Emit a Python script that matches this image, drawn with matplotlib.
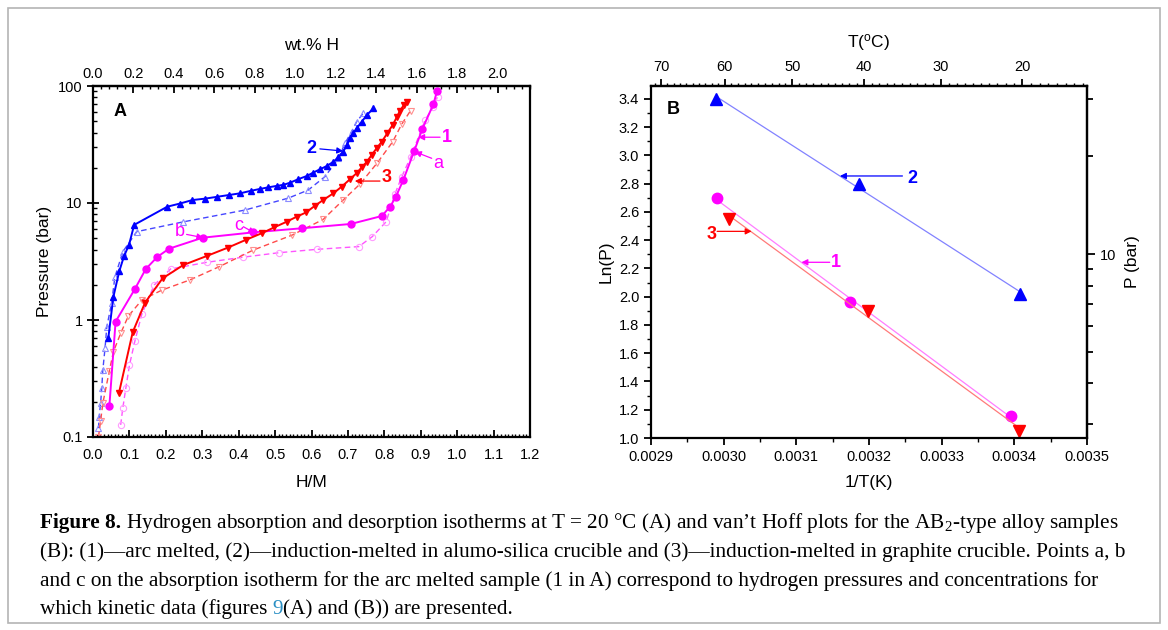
import numpy as np
import matplotlib.pyplot as plt
from matplotlib.ticker import MultipleLocator, FixedLocator, FuncFormatter
from matplotlib.patches import Rectangle

plt.rcParams['font.family'] = ['Liberation Sans', 'DejaVu Sans']
plt.rcParams['mathtext.fontset'] = 'custom'
plt.rcParams['mathtext.rm'] = 'Liberation Serif'
plt.rcParams['mathtext.it'] = 'Liberation Serif:italic'
plt.rcParams['mathtext.bf'] = 'Liberation Serif:bold'

# ---- panel A: isotherms, H/M vs pressure (bar) ----
# sample 1 (arc melted)
hm_abs1 = [0.045, 0.062, 0.115, 0.145, 0.177, 0.209, 0.301, 0.44, 0.573, 0.708,
           0.793, 0.816, 0.831, 0.852, 0.882, 0.904, 0.935, 0.945]
p_abs1 = [0.185, 0.968, 1.84, 2.73, 3.47, 4.07, 5.05, 5.61, 6.08, 6.62,
          7.74, 9.31, 11.2, 15.7, 27.8, 42.6, 70.2, 91.3]
hm_des1 = [0.076, 0.082, 0.090, 0.100, 0.115, 0.134, 0.168, 0.213, 0.312, 0.411,
           0.511, 0.616, 0.730, 0.767, 0.805, 0.829, 0.848, 0.872, 0.912, 0.935, 0.946]
p_des1 = [0.127, 0.178, 0.26, 0.41, 0.66, 1.12, 1.99, 2.73, 3.11, 3.44,
          3.76, 4.02, 4.24, 5.16, 6.92, 11.9, 16.8, 24.6, 51.2, 66.5, 81.1]
# sample 2 (alumo-silica crucible)
hm_abs2 = [0.042, 0.056, 0.072, 0.085, 0.099, 0.113, 0.204, 0.239, 0.273, 0.308,
           0.341, 0.373, 0.404, 0.433, 0.459, 0.481, 0.504, 0.523, 0.541, 0.564,
           0.587, 0.605, 0.623, 0.642, 0.660, 0.674, 0.687, 0.697, 0.706, 0.715,
           0.724, 0.738, 0.752, 0.770]
p_abs2 = [0.70, 1.58, 2.6, 3.5, 4.4, 6.5, 9.3, 9.9, 10.6, 10.9,
          11.3, 11.7, 12.1, 12.7, 13.2, 13.6, 14.0, 14.3, 14.9, 16.0,
          17.0, 18.2, 19.4, 20.7, 22.5, 24.6, 27.4, 31.3, 35.7, 39.4,
          43.5, 49.5, 56.5, 64.4]
hm_des2 = [0.015, 0.017, 0.021, 0.024, 0.027, 0.033, 0.038, 0.051, 0.060, 0.082,
           0.12, 0.248, 0.417, 0.536, 0.591, 0.637, 0.674, 0.692, 0.71, 0.724, 0.742]
p_des2 = [0.119, 0.149, 0.197, 0.26, 0.374, 0.573, 0.877, 1.39, 2.32, 3.84,
          5.69, 6.9, 8.7, 11.0, 12.9, 16.8, 24.1, 32.4, 40.7, 49.5, 58.5]
# sample 3 (graphite crucible)
hm_abs3 = [0.071, 0.109, 0.143, 0.191, 0.248, 0.312, 0.370, 0.419, 0.463, 0.498,
           0.532, 0.559, 0.585, 0.61, 0.632, 0.66, 0.683, 0.706, 0.724, 0.738,
           0.752, 0.765, 0.779, 0.793, 0.808, 0.823, 0.834, 0.843, 0.854, 0.863]
p_abs3 = [0.236, 0.786, 1.41, 2.27, 2.95, 3.52, 4.15, 4.83, 5.51, 6.2,
          6.92, 7.63, 8.3, 9.5, 10.6, 12.1, 13.8, 16.0, 18.0, 20.2,
          22.5, 25.7, 29.4, 33.4, 39.4, 46.5, 54.0, 61.6, 68.9, 73.4]
hm_des3 = [0.015, 0.021, 0.027, 0.045, 0.056, 0.076, 0.097, 0.134, 0.189, 0.266,
           0.347, 0.44, 0.547, 0.632, 0.687, 0.733, 0.781, 0.823, 0.848, 0.872]
p_des3 = [0.10, 0.138, 0.194, 0.369, 0.535, 0.77, 1.08, 1.48, 1.8, 2.2,
          2.86, 3.96, 5.32, 7.24, 10.6, 14.5, 22.1, 33.4, 47.3, 61.6]

# ---- panel B: van't Hoff, 1/T(K) vs Ln(P) ----
invT1 = [0.002991, 0.003174, 0.003396]
lnP1 = [2.70, 1.96, 1.156]
invT2 = [0.002990, 0.003186, 0.003408]
lnP2 = [3.40, 2.80, 2.02]
invT3 = [0.003008, 0.003199, 0.003406]
lnP3 = [2.548, 1.901, 1.052]

MAG, BLUE, RED = '#ff00ff', '#0000ff', '#ff0000'

W, H = 1168, 630
fig = plt.figure(figsize=(W / 100, H / 100), dpi=100)
fig.patches.append(Rectangle((8 / W, 7 / H), 1152 / W, 615 / H, transform=fig.transFigure,
                             fill=False, edgecolor='#b4b4b4', lw=1.2))

# ===================== panel A =====================
axA = fig.add_axes([93 / W, 1 - 437 / H, 437 / W, 351 / H])
axA.set_yscale('log')
axA.set_xlim(0, 1.2)
axA.set_ylim(0.1, 100)

dash_kw = dict(ls=(0, (4, 2.5)), lw=1.0, ms=4.5, mfc='none', mew=0.8)
axA.plot(hm_des1, p_des1, color='#ff55ff', marker='o', mec='#ff9cff', **dash_kw)
axA.plot(hm_des2, p_des2, color='#4646ff', marker='^', mec='#8c8cff', **dash_kw)
axA.plot(hm_des3, p_des3, color='#ff4a4a', marker='v', mec='#ff8f8f', **dash_kw)
axA.plot(hm_abs1, p_abs1, color=MAG, marker='o', ms=5, lw=1.4)
axA.plot(hm_abs2, p_abs2, color=BLUE, marker='^', ms=5, lw=1.4)
axA.plot(hm_abs3, p_abs3, color=RED, marker='v', ms=5, lw=1.4)

for s in axA.spines.values():
    s.set_linewidth(1.6)
axA.xaxis.set_major_locator(MultipleLocator(0.1))
axA.xaxis.set_minor_locator(MultipleLocator(0.01))
axA.xaxis.set_major_formatter(FuncFormatter(lambda v, p: '%.1f' % v))
axA.yaxis.set_major_formatter(FuncFormatter(lambda v, p: '%g' % v))
axA.tick_params(axis='x', which='major', direction='in', length=5, width=1.3, labelsize=10.5,
                top=False, pad=8)
axA.tick_params(axis='x', which='minor', direction='in', length=2.5, width=1.0, top=False)
axA.tick_params(axis='y', which='major', direction='inout', length=8, width=1.3, labelsize=10.5,
                right=False)
axA.tick_params(axis='y', which='minor', direction='in', length=3, width=1.0, right=False)
axA.yaxis.set_minor_formatter(FuncFormatter(lambda v, p: ''))
axA.set_xlabel('H/M', fontsize=12.5, labelpad=9)
axA.set_ylabel('Pressure (bar)', fontsize=12.5, labelpad=4)

topA = axA.secondary_xaxis('top', functions=(lambda x: x * 1.8, lambda w: w / 1.8))
topA.xaxis.set_major_locator(MultipleLocator(0.2))
topA.xaxis.set_minor_locator(MultipleLocator(0.04))
topA.xaxis.set_major_formatter(FuncFormatter(lambda v, p: '%.1f' % v))
topA.tick_params(which='major', direction='in', length=5, width=1.3, labelsize=10.5)
topA.tick_params(which='minor', direction='in', length=2.5, width=1.0)
topA.spines['top'].set_linewidth(1.6)
topA.set_xlabel('wt.% H', fontsize=12.5, labelpad=12)

axA.text(0.074, 60, 'A', fontsize=13, fontweight='bold', ha='center', va='center')

arr = lambda c: dict(arrowstyle='-|>', color=c, lw=0.9, mutation_scale=9, shrinkA=0, shrinkB=0)
# labels 1, 2, 3 and points a, b, c
notes_A = [('2', BLUE, 'bold', (0.601, 29.0), (0.623, 29.0), (0.687, 27.8)),
           ('3', RED, 'bold', (0.806, 16.4), (0.788, 15.4), (0.719, 15.4)),
           ('1', MAG, 'bold', (0.972, 36.6), (0.953, 36.5), (0.893, 36.5)),
           ('a', MAG, 'normal', (0.947, 21.8), (0.930, 24.1), (0.884, 27.4)),
           ('b', MAG, 'normal', (0.239, 5.69), (0.257, 5.39), (0.303, 5.05)),
           ('c', MAG, 'normal', (0.399, 6.40), (0.413, 6.27), (0.445, 5.51))]
for lab, c, fw, tpos, tail, head in notes_A:
    axA.text(tpos[0], tpos[1], lab, color=c, fontsize=13, fontweight=fw, ha='center', va='center')
    axA.annotate('', xy=head, xytext=tail, arrowprops=arr(c))

# ===================== panel B =====================
axB = fig.add_axes([651 / W, 1 - 438 / H, 436 / W, 352 / H])
axB.set_xlim(0.0029, 0.0035)
axB.set_ylim(1.0, 3.492)
for xs, ys, c, lc, m, ms in [(invT2, lnP2, BLUE, '#8282ff', '^', 8.5),
                             (invT1, lnP1, MAG, '#ff7cff', 'o', 7.5),
                             (invT3, lnP3, RED, '#ff7a7a', 'v', 8.5)]:
    k, b = np.polyfit(xs, ys, 1)
    xf = np.array([min(xs), max(xs)])
    axB.plot(xf, k * xf + b, color=lc, lw=0.9)
    axB.plot(xs, ys, ls='none', marker=m, ms=ms, color=c)

for s in axB.spines.values():
    s.set_linewidth(1.6)
axB.xaxis.set_major_locator(MultipleLocator(0.0001))
axB.xaxis.set_minor_locator(MultipleLocator(0.00005))
axB.xaxis.set_major_formatter(FuncFormatter(lambda v, p: '%.4f' % v))
axB.yaxis.set_major_locator(MultipleLocator(0.2))
axB.yaxis.set_minor_locator(MultipleLocator(0.1))
axB.yaxis.set_major_formatter(FuncFormatter(lambda v, p: '%.1f' % v))
axB.tick_params(which='major', direction='out', length=5, width=1.3, labelsize=10.5,
                top=False, right=False)
axB.tick_params(which='minor', direction='out', length=3, width=1.0, top=False, right=False)
axB.set_xlabel('1/T(K)', fontsize=12.5, labelpad=8)
axB.set_ylabel('Ln(P)', fontsize=12.5, labelpad=4)


def inv_to_c(x):
    x = np.asarray(x, dtype=float)
    with np.errstate(divide='ignore'):
        return 1.0 / x - 273.15


def c_to_inv(c):
    c = np.asarray(c, dtype=float)
    with np.errstate(divide='ignore'):
        return 1.0 / (c + 273.15)


topB = axB.secondary_xaxis('top', functions=(inv_to_c, c_to_inv))
topB.xaxis.set_major_locator(FixedLocator([20, 30, 40, 50, 60, 70]))
topB.xaxis.set_minor_locator(FixedLocator(np.arange(13, 72, 1)))
topB.xaxis.set_major_formatter(FuncFormatter(lambda v, p: '%d' % v))
topB.tick_params(which='major', direction='out', length=5, width=1.3, labelsize=10.5)
topB.tick_params(which='minor', direction='out', length=2.5, width=1.0)
topB.spines['top'].set_linewidth(1.6)
topB.set_xlabel('T($\\mathregular{^o}$C)', fontsize=12.5, labelpad=9)

rightB = axB.secondary_yaxis('right', functions=(np.exp, np.log))
rightB.yaxis.set_major_locator(FixedLocator([10]))
rightB.yaxis.set_minor_locator(FixedLocator([3, 4, 5, 6, 7, 8, 9, 20, 30]))
rightB.yaxis.set_major_formatter(FuncFormatter(lambda v, p: '%g' % v))
rightB.yaxis.set_minor_formatter(FuncFormatter(lambda v, p: ''))
rightB.tick_params(which='major', direction='out', length=6, width=1.3, labelsize=10.5)
rightB.tick_params(which='minor', direction='out', length=4.5, width=1.3)
rightB.spines['right'].set_linewidth(1.6)
rightB.set_ylabel('P (bar)', fontsize=12.5, labelpad=6)

axB.text(0.00293, 3.329, 'B', fontsize=13, fontweight='bold', ha='center', va='center')
notes_B = [('2', BLUE, (0.003260, 2.84), (0.003246, 2.855), (0.003160, 2.855)),
           ('3', RED, (0.0029835, 2.444), (0.002991, 2.463), (0.0030385, 2.463)),
           ('1', MAG, (0.003154, 2.244), (0.003146, 2.244), (0.003107, 2.244))]
for lab, c, tpos, tail, head in notes_B:
    axB.text(tpos[0], tpos[1], lab, color=c, fontsize=13, fontweight='bold', ha='center', va='center')
    axB.annotate('', xy=head, xytext=tail, arrowprops=arr(c))

# ===================== caption =====================
cap_lines = [
    [('Figure 8.', 'bold', 'black'),
     (' Hydrogen absorption and desorption isotherms at T = 20 \u00b0C (A) and van\u2019t Hoff plots '
      'for the AB$_2$-type alloy samples', 'normal', 'black')],
    [('(B): (1)\u2014arc melted, (2)\u2014induction-melted in alumo-silica crucible and '
      '(3)\u2014induction-melted in graphite crucible. Points a, b', 'normal', 'black')],
    [('and c on the absorption isotherm for the arc melted sample (1 in A) correspond to '
      'hydrogen pressures and concentrations for', 'normal', 'black')],
    [('which kinetic data (figures ', 'normal', 'black'), ('9', 'normal', '#2a8fc4'),
     ('(A) and (B)) are presented.', 'normal', 'black')],
]
cap_y = [523, 552, 581, 609]
serif = ['Liberation Serif', 'DejaVu Serif']
renderer = fig.canvas.get_renderer()
# size the caption so that line 2 spans the same width as in the reference
probe = fig.text(0, 0, cap_lines[1][0][0], family=serif, fontsize=13)
cap_fs = 13 * 1082 / probe.get_window_extent(renderer).width
probe.remove()
for parts, yy in zip(cap_lines, cap_y):
    x = 40
    for txt, fw, col in parts:
        t = fig.text(x / W, 1 - yy / H, txt, family=serif,
                     fontsize=cap_fs, fontweight=fw, color=col, va='center', ha='left')
        x += t.get_window_extent(renderer).width

fig.savefig('out.png', dpi=100)
